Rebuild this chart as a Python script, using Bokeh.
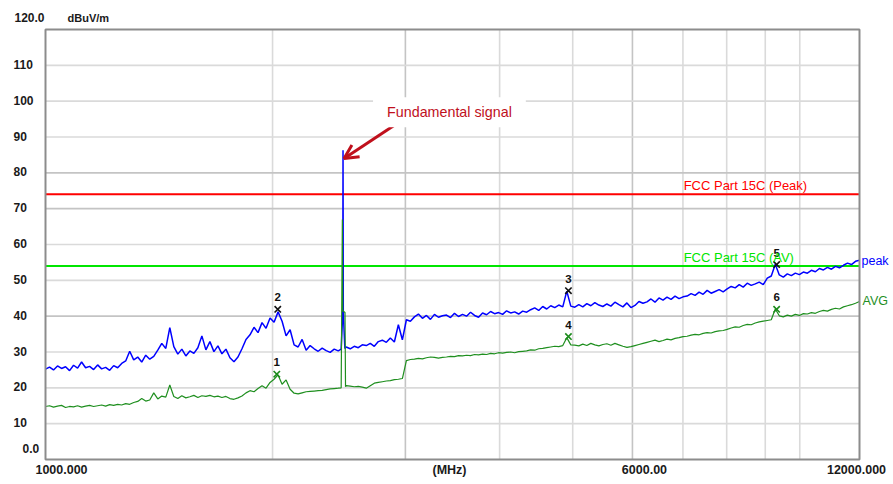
import numpy as np
from bokeh.plotting import figure
from bokeh.models import (Range1d, Label, LabelSet, Arrow, OpenHead, ColumnDataSource)
from bokeh.core.properties import value
from bokeh.embed import file_html
from bokeh.resources import INLINE

# ---------------- data ----------------
sweep_start_mhz = 1000.0
sweep_stop_mhz = 12000.0
y_min_dbuv, y_max_dbuv = 0.0, 120.0

peak_dbuv = [
    25.2, 25.8, 25.0, 26.1, 25.4, 25.9, 24.8, 26.3, 25.5, 27.2,
    25.6, 26.0, 25.1, 26.4, 25.3, 25.7, 24.9, 26.2, 25.6, 26.8,
    27.5, 30.2, 27.8, 28.6, 27.2, 29.1, 28.0, 28.8, 30.5, 32.4,
    31.0, 36.8, 31.5, 29.4, 30.8, 28.9, 30.3, 29.6, 31.2, 34.5,
    30.6, 32.9, 30.1, 31.7, 29.5, 30.8, 28.4, 27.3, 28.6, 30.9,
    33.5, 34.8, 36.9, 35.4, 38.2, 36.6, 39.5, 38.3, 41.2, 38.6,
    34.5, 36.2, 32.0, 31.4, 33.5, 30.5, 31.8, 30.9, 30.2, 31.1,
    30.4, 29.9, 30.8, 30.3, 31.0, 31.4, 30.9, 31.6, 31.2, 32.0,
    31.8, 32.4, 31.6, 32.9, 33.3, 32.7, 33.9, 32.8, 37.6, 33.4,
    39.0, 38.6, 39.8, 40.6, 39.4, 40.2, 39.1, 40.5, 39.7, 40.1,
    40.3, 39.6, 40.8, 39.9, 40.5, 40.0, 41.1, 40.2, 39.7, 40.9,
    40.4, 41.3, 40.7, 41.0, 40.5, 41.5, 40.9, 41.2, 40.6, 41.4,
    41.1, 41.8, 42.3, 41.6, 42.7, 42.0, 42.9, 42.4, 43.1, 42.6,
    47.0, 42.8, 42.5, 43.2, 42.6, 43.5, 42.9, 43.8, 43.1, 42.7,
    43.4, 42.8, 43.9, 43.2, 42.6, 43.7, 42.4, 43.0, 44.1, 43.6,
    44.0, 44.8, 43.9, 45.1, 44.5, 45.3, 44.7, 45.6, 44.9, 45.4,
    45.6, 46.3, 45.8, 46.7, 46.1, 47.2, 46.4, 46.9, 47.4, 46.8,
    47.6, 48.3, 47.9, 48.8, 48.1, 49.2, 48.6, 49.0, 49.5, 48.8,
    50.6, 51.2, 54.5, 51.5, 50.9, 51.8, 51.3, 52.0, 51.6, 52.3,
    52.0, 52.8, 52.4, 53.3, 52.9, 53.6, 53.1, 53.9, 53.5, 54.2,
    54.8, 54.4, 55.3, 55.6,
]

avg_dbuv = [
    14.8, 15.0, 14.6, 14.9, 15.1, 14.5, 14.8, 14.7, 15.0, 14.6,
    14.9, 15.1, 14.8, 15.0, 15.2, 14.9, 15.3, 15.1, 15.4, 15.2,
    15.6, 15.4, 15.9, 16.2, 17.0, 16.3, 16.6, 18.6, 16.9, 17.7,
    17.4, 20.8, 17.6, 17.0, 17.8, 17.2, 17.5, 17.9, 17.3, 17.8,
    17.6, 17.9, 17.5, 17.7, 17.3, 17.6, 17.0, 16.8, 17.2, 17.7,
    18.6, 19.2, 18.9, 19.8, 20.6, 19.9, 21.5, 22.4, 23.6, 21.0,
    22.2, 19.6, 18.5, 18.3, 18.6, 18.9, 19.0, 19.1, 19.2, 19.3,
    19.5, 19.7, 19.8, 19.9, 20.0, 20.6, 20.5, 20.3, 20.4, 20.2,
    19.9, 20.6, 21.3, 21.5, 21.7, 21.9, 22.0, 22.3, 22.4, 22.6,
    27.6, 27.9, 28.0, 28.2, 28.1, 28.4, 28.6, 28.5, 28.3, 28.5,
    28.6, 28.8, 28.7, 29.0, 28.9, 29.1, 29.0, 29.3, 29.2, 29.4,
    29.3, 29.6, 29.5, 29.8, 29.7, 29.9, 30.0, 29.8, 30.1, 30.2,
    30.3, 30.6, 30.5, 30.9, 31.0, 31.2, 31.4, 31.6, 31.5, 31.8,
    34.0, 32.0, 31.9, 31.7, 32.2, 31.8, 32.4, 32.0, 31.7, 32.1,
    32.3, 31.9, 32.4, 32.0, 31.6, 31.3, 31.5, 31.8, 32.1, 32.4,
    32.7, 33.0, 33.3, 32.9, 33.2, 33.6, 33.4, 33.8, 34.0, 34.3,
    34.4, 34.7, 34.9, 34.8, 35.2, 35.4, 35.3, 35.7, 35.9, 36.0,
    36.3, 36.7, 37.0, 36.9, 37.4, 37.7, 37.6, 38.1, 38.4, 38.6,
    38.8, 39.0, 42.0, 40.1, 39.8, 40.3, 40.0, 40.5, 40.2, 40.7,
    40.6, 41.0, 40.8, 41.3, 41.6, 41.4, 41.9, 42.2, 42.0, 42.6,
    42.9, 43.2, 43.6, 44.1,
]

# fundamental (2.48 GHz) spike, finely resolved
fund_peak_mhz = [2466, 2478, 2480, 2482, 2494]
fund_peak_dbuv = [30.8, 41.0, 86.3, 41.0, 31.0]
fund_avg_mhz = [2466, 2470, 2475, 2478, 2495, 2499]
fund_avg_dbuv = [20.0, 41.0, 67.0, 41.5, 41.0, 20.3]

limit_peak_dbuv = 74.0
limit_avg_dbuv = 54.0

marker_ids = ["1", "2", "3", "4", "5", "6"]
marker_mhz = [2026, 2032, 4935, 4935, 9318, 9318]
marker_dbuv = [23.8, 41.9, 47.1, 34.3, 54.4, 41.9]
marker_trace = ["avg", "peak", "peak", "avg", "peak", "avg"]

y_tick_values = [10, 20, 30, 40, 50, 60, 70, 80, 90, 100, 110]
y_tick_labels = ["10", "20", "30", "40", "50", "60", "70", "80", "90", "100", "110"]
x_grid_mhz = [2000, 3000, 4000, 5000, 6000, 7000, 8000, 9000, 10000]
x_grid_dark_mhz = [3000, 6000]
y_grid_dark = [40, 70, 80]

# ---------------- layout (pixels) ----------------
W, H = 890, 478
PX_L, PX_R, PX_T, PX_B = 45.0, 859.0, 29.0, 459.0   # plot-box edges on the page

dec = np.log10(sweep_stop_mhz / sweep_start_mhz)
ppd = (PX_R - PX_L) / dec                          # pixels per decade
x_lo = sweep_start_mhz * 10 ** (-PX_L / ppd)
x_hi = sweep_start_mhz * 10 ** ((W - PX_L) / ppd)
ppdb = (PX_B - PX_T) / (y_max_dbuv - y_min_dbuv)   # pixels per dB
y_hi = y_max_dbuv + PX_T / ppdb
y_lo = y_min_dbuv - (H - PX_B) / ppdb

# ---------------- build traces ----------------
n_pts = len(peak_dbuv)
grid_mhz = np.geomspace(sweep_start_mhz, sweep_stop_mhz, n_pts)
keep = (grid_mhz < 2460) | (grid_mhz > 2502)

def merge(vals, f_extra, v_extra):
    f = np.concatenate([grid_mhz[keep], np.array(f_extra, float)])
    v = np.concatenate([np.array(vals, float)[keep], np.array(v_extra, float)])
    o = np.argsort(f)
    return f[o], v[o]

pk_f, pk_v = merge(peak_dbuv, fund_peak_mhz, fund_peak_dbuv)
av_f, av_v = merge(avg_dbuv, fund_avg_mhz, fund_avg_dbuv)

FONT = "Liberation Sans"
BLUE = "#0000ff"
TRACE_GREEN = "#1f8f1f"
LIMIT_GREEN = "#00e600"
RED = "#ff0000"
GRID_LIGHT = "#dadada"
GRID_DARK = "#c4c4c4"

p = figure(width=W, height=H, x_axis_type="log",
           x_range=Range1d(x_lo, x_hi), y_range=Range1d(y_lo, y_hi),
           output_backend="svg", toolbar_location=None,
           min_border=0, min_border_left=0, min_border_right=0,
           min_border_top=0, min_border_bottom=0)
p.xaxis.visible = False
p.yaxis.visible = False
p.xgrid.visible = False
p.ygrid.visible = False
p.outline_line_color = None
p.background_fill_color = "white"
p.border_fill_color = "white"

# grid
xg_col = [GRID_DARK if f in x_grid_dark_mhz else GRID_LIGHT for f in x_grid_mhz]
p.segment(x0=x_grid_mhz, x1=x_grid_mhz, y0=y_min_dbuv, y1=y_max_dbuv,
          line_color=xg_col, line_width=1.6)
yg_col = [GRID_DARK if v in y_grid_dark else GRID_LIGHT for v in y_tick_values]
p.segment(x0=sweep_start_mhz, x1=sweep_stop_mhz, y0=y_tick_values, y1=y_tick_values,
          line_color=yg_col, line_width=1.6)

# limit lines
p.segment(x0=sweep_start_mhz, x1=sweep_stop_mhz, y0=[limit_peak_dbuv, limit_avg_dbuv],
          y1=[limit_peak_dbuv, limit_avg_dbuv], line_color=[RED, LIMIT_GREEN], line_width=2)

# traces
p.line(pk_f, pk_v, line_color=BLUE, line_width=1.5)
p.line(av_f, av_v, line_color=TRACE_GREEN, line_width=1.2)

# plot box
p.quad(left=sweep_start_mhz, right=sweep_stop_mhz, bottom=y_min_dbuv, top=y_max_dbuv,
       fill_color=None, line_color="#8c8c8c", line_width=2)

# markers
mk_colors = ["#111111" if t == "peak" else "#1a8a1a" for t in marker_trace]
msrc = ColumnDataSource(dict(x=marker_mhz, y=marker_dbuv, t=marker_ids, c=mk_colors))
p.scatter("x", "y", source=msrc, marker="x", size=9, line_color="c", line_width=1.6)
p.add_layout(LabelSet(x="x", y="y", text="t", source=msrc, y_offset=12,
                      text_align="center", text_baseline="middle",
                      text_font=value(FONT), text_font_style="bold",
                      text_font_size="11.5px", text_color="#111111"))

# y tick labels (left aligned, like the reference)
ysrc = ColumnDataSource(dict(y=y_tick_values, t=y_tick_labels))
p.add_layout(LabelSet(x=sweep_start_mhz, y="y", text="t", source=ysrc,
                      x_offset=-32, y_offset=1, text_align="left",
                      text_baseline="middle", text_font=value(FONT),
                      text_font_style="bold", text_font_size="12px",
                      text_color="#1a1a1a"))

def lab(text, x, y, xo=0, yo=0, align="left", size="12px", color="#1a1a1a",
        style="bold", **kw):
    p.add_layout(Label(x=x, y=y, x_offset=xo, y_offset=yo, text=text,
                       text_align=align, text_baseline="middle", text_font=FONT,
                       text_font_size=size, text_font_style=style,
                       text_color=color, **kw))

lab("120.0", sweep_start_mhz, y_max_dbuv, xo=-31, yo=12)
lab("0.0", sweep_start_mhz, y_min_dbuv, xo=-23, yo=11)
lab("dBuV/m", sweep_start_mhz, y_max_dbuv, xo=22, yo=12, size="11px")

# x labels
lab("1000.000", sweep_start_mhz, y_min_dbuv, xo=16, yo=-10, align="center", size="12.5px")
lab("(MHz)", sweep_start_mhz, y_min_dbuv, xo=404, yo=-10, align="center", size="12.5px")
lab("6000.00", 6000, y_min_dbuv, xo=12, yo=-10, align="center", size="12.5px")
lab("12000.000", sweep_stop_mhz, y_min_dbuv, xo=-3, yo=-10, align="center", size="12.5px")

# limit / trace labels
lab("FCC Part 15C (Peak)", 7015, limit_peak_dbuv, yo=9, size="13px",
    color=RED, style="normal")
lab("FCC Part 15C (AV)", 7015, limit_avg_dbuv, yo=9, size="13px",
    color=LIMIT_GREEN, style="normal")
lab("peak", sweep_stop_mhz, 55.3, xo=2, size="12.5px", color=BLUE, style="normal")
lab("AVG", sweep_stop_mhz, 44.1, xo=3, size="12.5px", color=TRACE_GREEN, style="normal")

# annotation arrow + text
DARKRED = "#c0101c"
p.add_layout(Arrow(end=OpenHead(size=14, line_color=DARKRED, line_width=3),
                   x_start=2996, y_start=95.2, x_end=2488, y_end=84.0,
                   line_color=DARKRED, line_width=3))
p.add_layout(Label(x=2718, y=96.9, text="Fundamental signal", text_align="left",
                   text_baseline="middle", text_font=FONT, text_font_size="14.3px",
                   text_color=DARKRED, background_fill_color="white",
                   padding=(14, 7)))

open("out.html", "w").write(file_html(p, INLINE))
